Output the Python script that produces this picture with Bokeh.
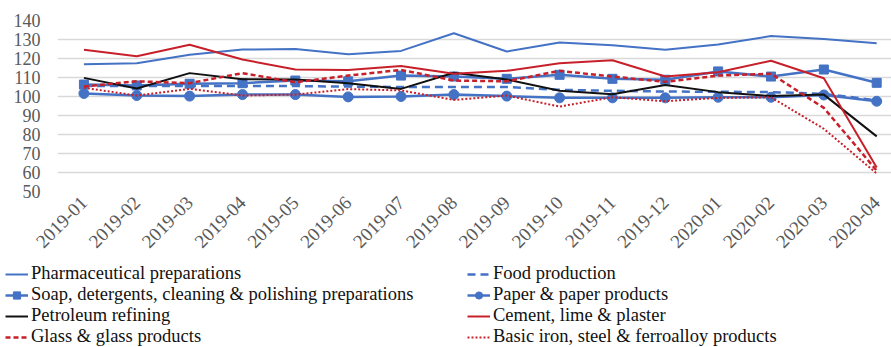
import math
from bokeh.plotting import figure
from bokeh.models import Range1d, FixedTicker, Legend, LegendItem
from bokeh.embed import file_html
from bokeh.resources import INLINE

months = ["2019-01", "2019-02", "2019-03", "2019-04", "2019-05", "2019-06",
          "2019-07", "2019-08", "2019-09", "2019-10", "2019-11", "2019-12",
          "2020-01", "2020-02", "2020-03", "2020-04"]

pharma = [117, 117.5, 122, 124.7, 125, 122.2, 124, 133.3, 123.7, 128.4, 127, 124.6, 127.4, 131.8, 130.2, 128]
food = [105.5, 105.5, 105.5, 105.5, 105.5, 105.2, 105, 105, 105, 103.5, 103, 102.6, 102.5, 102.3, 101.4, 98]
soap = [106.3, 105.8, 106.7, 107, 108.4, 108, 111, 110.5, 109.3, 111.4, 109.3, 108.8, 113.2, 110.5, 114.2, 107.2]
paper = [101.6, 100.5, 100.2, 101, 101, 99.8, 100, 101, 100.2, 99.3, 99.3, 99.3, 99.6, 99.6, 100.8, 97.5]
petroleum = [109.8, 104.2, 112.3, 109.1, 109, 107, 104, 112.5, 109, 103, 101.2, 106.1, 102.3, 100.2, 101, 79]
cement = [124.6, 121.2, 127.2, 119.5, 114.2, 114, 116, 112, 113.5, 117.5, 119.1, 110.5, 112.8, 118.8, 109.6, 62.6]
glass = [105.3, 108, 107, 112.3, 107.5, 111, 114, 108.4, 108, 113.5, 110.5, 107.7, 111, 112, 94, 61]
iron = [104.6, 100.5, 104, 100.5, 101, 103.9, 103.2, 98.2, 100.5, 94.7, 99.6, 97.5, 99.3, 99.6, 83, 59.5]

series_labels = ["Pharmaceutical preparations", "Food production",
                 "Soap, detergents, cleaning & polishing preparations", "Paper & paper products",
                 "Petroleum refining", "Cement, lime & plaster",
                 "Glass & glass products", "Basic iron, steel & ferroalloy products"]

y_ticks = [50, 60, 70, 80, 90, 100, 110, 120, 130, 140]

BLUE = "#4472C4"
RED = "#C8202A"
BLACK = "#111111"
FONT = "Liberation Serif"

x = list(range(len(months)))


def draw_series(fig):
    r = {}
    r["pharma"] = [fig.line(x, pharma, line_color=BLUE, line_width=2)]
    r["food"] = [fig.line(x, food, line_color=BLUE, line_width=2.5, line_dash="8 5")]
    r["soap"] = [fig.line(x, soap, line_color=BLUE, line_width=2.5),
                 fig.scatter(x, soap, marker="square", size=9, color=BLUE)]
    r["paper"] = [fig.line(x, paper, line_color=BLUE, line_width=2.5),
                  fig.scatter(x, paper, marker="circle", size=10, color=BLUE)]
    r["petro"] = [fig.line(x, petroleum, line_color=BLACK, line_width=2)]
    r["cement"] = [fig.line(x, cement, line_color=RED, line_width=2)]
    r["glass"] = [fig.line(x, glass, line_color=RED, line_width=2.5, line_dash="5 3")]
    r["iron"] = [fig.line(x, iron, line_color=RED, line_width=2, line_dash="2 2")]
    return r


# ---- main chart ----
p = figure(width=891, height=263, output_backend="svg", toolbar_location=None,
           x_range=Range1d(-0.5, 15.28), y_range=Range1d(50, 140),
           min_border_left=57, min_border_right=0, min_border_top=20,
           min_border_bottom=72)
p.outline_line_color = None

p.xaxis.ticker = FixedTicker(ticks=x)
p.xaxis.major_label_overrides = {i: m for i, m in zip(x, months)}
p.xaxis.major_label_orientation = math.pi / 4
p.yaxis.ticker = FixedTicker(ticks=y_ticks)
for ax in (p.xaxis[0], p.yaxis[0]):
    ax.axis_line_color = None
    ax.major_tick_line_color = None
    ax.minor_tick_line_color = None
    ax.major_tick_out = 0
    ax.major_tick_in = 0
    ax.major_label_text_font = FONT
    ax.major_label_text_color = "#595959"
p.yaxis.major_label_text_font_size = "18px"
p.xaxis.major_label_text_font_size = "19px"
p.yaxis.major_label_standoff = 17
p.xaxis.major_label_standoff = 8

p.xgrid.grid_line_color = None
p.ygrid.ticker = FixedTicker(ticks=y_ticks)
p.ygrid.grid_line_color = "#D9D9D9"
p.ygrid.grid_line_width = 1.5

draw_series(p)

# ---- legend strip (separate root, so it is not frame-aligned with the chart) ----
lg = figure(width=891, height=84, output_backend="svg", toolbar_location=None,
            x_range=Range1d(0, 1), y_range=Range1d(0, 1), min_border=0)
lg.outline_line_color = None
lg.axis.visible = False
lg.grid.visible = False
rr = draw_series(lg)  # same series, outside the visible range: only the legends show
keys = ["pharma", "food", "soap", "paper", "petro", "cement", "glass", "iron"]
items = [LegendItem(label=lab, renderers=rr[k]) for lab, k in zip(series_labels, keys)]

common = dict(orientation="vertical",
              label_text_font=FONT, label_text_font_size="18.5px",
              label_text_color="#111111",
              glyph_width=23, glyph_height=18, label_height=21,
              label_standoff=3, spacing=0, padding=0, margin=0,
              border_line_color=None, background_fill_alpha=0)
leg1 = Legend(items=items[0::2], location=(5, 0), **common)
leg2 = Legend(items=items[1::2], location=(467, 0), **common)
lg.add_layout(leg1, "center")
lg.add_layout(leg2, "center")

open("out.html", "w").write(file_html([p, lg], INLINE))
